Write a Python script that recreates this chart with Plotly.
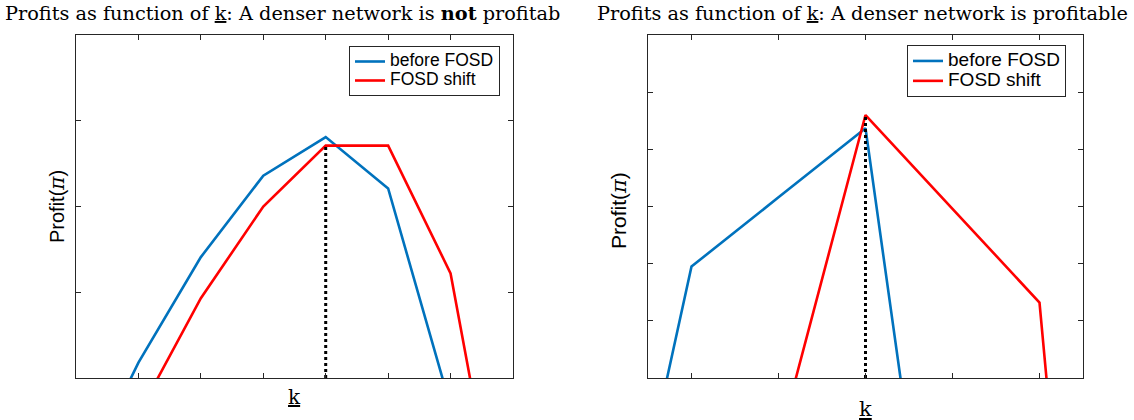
import plotly.graph_objects as go

# ---- data ----
k_left = [0, 1, 2, 3, 4, 5, 6, 7]
before_left = [-1.32, 0.18, 1.41, 2.36, 2.81, 2.21, -0.33, -3.0]
shift_left = [-3.0, -0.42, 0.93, 2.00, 2.71, 2.71, 1.22, -2.70]

k_right = [0, 1, 2, 3, 4, 5, 6]
before_right = [-5.0, 1.95, 3.16, 4.37, -6.5, -10.0, -12.0]
shift_right = [-9.0, -5.0, -1.15, 4.60, 2.96, 1.32, -15.2]

series_names = ["before FOSD", "FOSD shift"]
title_left = "Profits as function of <u>k</u>: A denser network is <b>not</b> profitab"
title_right = "Profits as function of <u>k</u>: A denser network is profitable"

BLUE = "#0072BD"
RED = "#FF0000"
W, H = 1134, 420
SERIF = "DejaVu Serif"
SANS = "Liberation Sans, Arial"

def px(x):
    return x / W

def py(y):
    return 1 - y / H

fig = go.Figure()

def add_panel(k, before, shift, xa, ya, legend, name_size):
    wrap = lambda s: f"<span style='font-size:{name_size}px'>{s}</span>"
    fig.add_trace(go.Scatter(x=k, y=before, mode="lines", name=wrap(series_names[0]),
                             line=dict(color=BLUE, width=2.6), xaxis=xa, yaxis=ya,
                             legend=legend))
    fig.add_trace(go.Scatter(x=k, y=shift, mode="lines", name=wrap(series_names[1]),
                             line=dict(color=RED, width=2.6), xaxis=xa, yaxis=ya,
                             legend=legend))
    i_star = before.index(max(before))
    k_star = k[i_star]
    top = max(shift)
    fig.add_trace(go.Scatter(x=[k_star, k_star], y=[0, top], mode="lines",
                             line=dict(color="black", width=3, dash="dot"),
                             showlegend=False, xaxis=xa, yaxis=ya))

add_panel(k_left, before_left, shift_left, "x", "y", "legend", 17.5)
add_panel(k_right, before_right, shift_right, "x2", "y2", "legend2", 19)

axis_common = dict(showticklabels=False, ticks="inside", ticklen=5, tickwidth=1,
                   tickcolor="#262626", showline=True, linecolor="#262626",
                   linewidth=1, mirror="ticks", showgrid=False, zeroline=False,
                   fixedrange=True)

fig.update_layout(
    width=W, height=H,
    margin=dict(l=0, r=0, t=0, b=0),
    paper_bgcolor="white", plot_bgcolor="white",
    showlegend=True,
    xaxis=dict(domain=[px(76), px(513)], range=[0, 7], tickvals=[1, 2, 3, 4, 5, 6],
               anchor="y", **axis_common),
    yaxis=dict(domain=[py(378), py(35)], range=[0, 4], tickvals=[1, 2, 3],
               anchor="x", **axis_common),
    xaxis2=dict(domain=[px(648), px(1083)], range=[0.5, 5.5], tickvals=[1, 2, 3, 4, 5],
                anchor="y2", **axis_common),
    yaxis2=dict(domain=[py(378), py(35)], range=[0, 6], tickvals=[1, 2, 3, 4, 5],
                anchor="x2", **axis_common),
    legend=dict(x=px(500), y=py(46), xanchor="right", yanchor="top",
                bgcolor="white", bordercolor="#262626", borderwidth=1,
                font=dict(family=SANS, size=11.5, color="black"),
                tracegroupgap=0, itemwidth=30),
    legend2=dict(x=px(1066), y=py(45), xanchor="right", yanchor="top",
                 bgcolor="white", bordercolor="#262626", borderwidth=1,
                 font=dict(family=SANS, size=13, color="black"),
                 tracegroupgap=0, itemwidth=30),
)

ylab = "Profit(<span style='font-family:DejaVu Serif'><i>π</i></span>)"
annots = [
    dict(text=title_left, x=px(3), y=py(13), xanchor="left", yanchor="middle",
         font=dict(family=SERIF, size=19.3, color="black")),
    dict(text=title_right, x=px(862), y=py(13), xanchor="center", yanchor="middle",
         font=dict(family=SERIF, size=19.3, color="black")),
    dict(text=ylab, x=px(57), y=py(207), xanchor="center", yanchor="middle",
         textangle=-90, font=dict(family=SANS, size=20, color="black")),
    dict(text=ylab, x=px(619), y=py(211), xanchor="center", yanchor="middle",
         textangle=-90, font=dict(family=SANS, size=21, color="black")),
    dict(text="<u>k</u>", x=px(294), y=py(397), xanchor="center", yanchor="middle",
         font=dict(family=SERIF, size=20, color="black")),
    dict(text="<u>k</u>", x=px(865), y=py(409), xanchor="center", yanchor="middle",
         font=dict(family=SERIF, size=21, color="black")),
]
for a in annots:
    a.update(xref="paper", yref="paper", showarrow=False)
fig.update_layout(annotations=annots)

fig.write_html("out.html", config={"displayModeBar": False},
               post_script="document.body.style.margin='0';")
